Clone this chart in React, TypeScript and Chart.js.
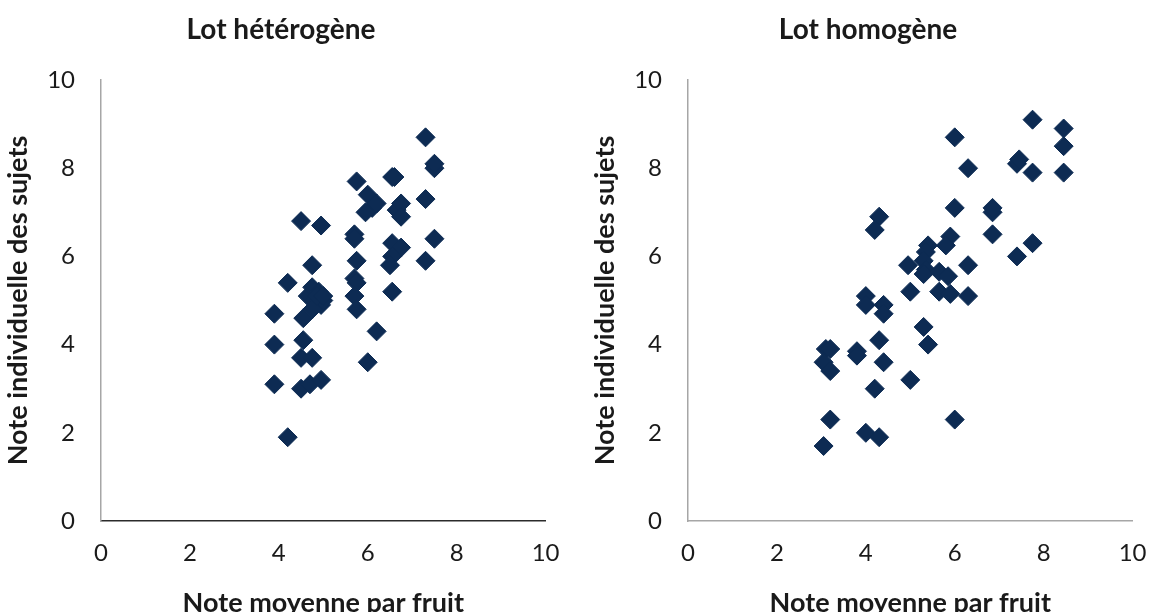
import React, { useEffect, useRef } from "react";
import { Chart, registerables } from "chart.js";

Chart.register(...registerables);

const hetTitle = "Lot hétérogène";
const homTitle = "Lot homogène";
const xAxisTitle = "Note moyenne par fruit";
const yAxisTitle = "Note individuelle des sujets";
const tickValues = [0, 2, 4, 6, 8, 10];

const hetX = [3.9, 3.9, 3.9, 4.2, 4.2, 4.5, 4.5, 4.5, 4.55, 4.55, 4.7, 4.75, 4.95, 4.75, 4.95, 4.65, 4.75, 4.8, 4.9, 4.95, 5.0, 4.75, 4.85, 5.0, 5.7, 5.7, 5.75, 5.7, 5.75, 5.7, 5.75, 5.75, 6.2, 6.0, 6.0, 6.1, 6.2, 5.95, 6.55, 6.6, 6.65, 6.75, 6.75, 6.55, 6.75, 6.55, 6.5, 6.55, 7.3, 7.5, 7.5, 7.3, 7.3, 7.5];
const hetY = [4.7, 4.0, 3.1, 1.9, 5.4, 6.8, 3.0, 3.7, 4.1, 4.6, 3.1, 3.7, 3.2, 5.8, 6.7, 5.1, 5.3, 5.0, 5.2, 4.9, 5.0, 4.8, 5.1, 5.1, 6.5, 6.4, 5.9, 5.5, 5.4, 5.1, 4.8, 7.7, 4.3, 3.6, 7.4, 7.1, 7.2, 7.0, 7.8, 7.8, 7.05, 7.2, 6.9, 6.3, 6.2, 6.0, 5.8, 5.2, 8.7, 8.0, 8.1, 7.3, 5.9, 6.4];

const homX = [7.75, 8.45, 8.45, 8.45, 7.75, 7.4, 7.45, 6.0, 6.3, 6.0, 6.85, 6.85, 6.85, 7.75, 7.4, 5.9, 5.8, 6.3, 4.3, 4.2, 5.4, 5.35, 4.95, 5.3, 5.35, 5.3, 5.65, 5.85, 5.0, 5.65, 5.9, 6.3, 4.0, 4.0, 4.4, 4.4, 5.3, 5.4, 4.3, 4.4, 3.8, 3.8, 3.1, 3.2, 3.05, 3.2, 5.0, 4.2, 6.0, 3.2, 4.0, 4.3, 3.05];
const homY = [9.1, 8.9, 8.5, 7.9, 7.9, 8.1, 8.2, 8.7, 8.0, 7.1, 7.0, 7.1, 6.5, 6.3, 6.0, 6.45, 6.25, 5.8, 6.9, 6.6, 6.25, 6.1, 5.8, 5.9, 5.7, 5.6, 5.65, 5.55, 5.2, 5.2, 5.15, 5.1, 5.1, 4.9, 4.9, 4.7, 4.4, 4.0, 4.1, 3.6, 3.85, 3.75, 3.9, 3.9, 3.6, 3.4, 3.2, 3.0, 2.3, 2.3, 2.0, 1.9, 1.7];

const FONT = "Lato, 'Open Sans', sans-serif";
const POINT_COLOR = "#0d2b53";
const TEXT_COLOR = "#1a1a1a";

type Props = {
  title: string;
  xs: number[];
  ys: number[];
  xAxisColor: string;
  left: number;
};

function Scatter({ title, xs, ys, xAxisColor, left }: Props) {
  const ref = useRef<HTMLCanvasElement | null>(null);
  useEffect(() => {
    if (!ref.current) return;
    const data = xs.map((x, i) => ({ x, y: ys[i] }));
    const chart = new Chart(ref.current, {
      type: "scatter",
      data: {
        datasets: [
          {
            data,
            pointStyle: "rectRot",
            pointRadius: 9.5,
            pointHoverRadius: 9.5,
            backgroundColor: POINT_COLOR,
            borderColor: POINT_COLOR,
            borderWidth: 1,
          },
        ],
      },
      options: {
        animation: false,
        responsive: false,
        events: [],
        layout: { padding: { top: 0, left: 0, right: 0, bottom: 0 } },
        plugins: {
          legend: { display: false },
          tooltip: { enabled: false },
          title: {
            display: true,
            text: title,
            color: TEXT_COLOR,
            font: { family: FONT, size: 28, weight: "bold", lineHeight: 1.2 },
            padding: { top: 13.2, bottom: 33.2 },
          },
        },
        scales: {
          x: {
            type: "linear",
            min: 0,
            max: 10,
            afterBuildTicks: (s: any) => {
              s.ticks = tickValues.map((v) => ({ value: v }));
            },
            afterFit: (s: any) => {
              s.height = 91;
            },
            grid: {
              display: true,
              drawOnChartArea: false,
              drawTicks: true,
              tickLength: 15,
              color: "rgba(0,0,0,0)",
            },
            border: { display: true, color: xAxisColor, width: 1.5 },
            ticks: {
              color: TEXT_COLOR,
              padding: 2.5,
              font: { family: FONT, size: 24, lineHeight: 1.2 },
            },
            title: {
              display: true,
              text: xAxisTitle,
              color: TEXT_COLOR,
              font: { family: FONT, size: 27, weight: "bold", lineHeight: 1 },
              padding: { top: 0, bottom: -4.5 },
            },
          },
          y: {
            type: "linear",
            min: 0,
            max: 10,
            afterBuildTicks: (s: any) => {
              s.ticks = tickValues.map((v) => ({ value: v }));
            },
            afterFit: (s: any) => {
              s.width = 101;
            },
            grid: { display: false, drawTicks: false },
            border: { display: true, color: "#a6a6a6", width: 1.5 },
            ticks: {
              color: TEXT_COLOR,
              padding: 26,
              font: { family: FONT, size: 24, lineHeight: 1.2 },
            },
            title: {
              display: true,
              text: yAxisTitle,
              color: TEXT_COLOR,
              font: { family: FONT, size: 27, weight: "bold", lineHeight: 1 },
              padding: { top: 4.5, bottom: 0 },
            },
          },
        },
      },
    } as any);
    return () => chart.destroy();
  }, [title, xs, ys, xAxisColor]);
  return (
    <canvas
      ref={ref}
      width={562}
      height={612}
      style={{ position: "absolute", left, top: 0, width: 562, height: 612 }}
    />
  );
}

export default function App() {
  return (
    <div
      style={{
        position: "absolute",
        left: 0,
        top: 0,
        width: 1149,
        height: 612,
        background: "#ffffff",
        overflow: "hidden",
      }}
    >
      <Scatter title={hetTitle} xs={hetX} ys={hetY} xAxisColor="#2b2b2b" left={0} />
      <Scatter title={homTitle} xs={homX} ys={homY} xAxisColor="#a6a6a6" left={587} />
    </div>
  );
}
